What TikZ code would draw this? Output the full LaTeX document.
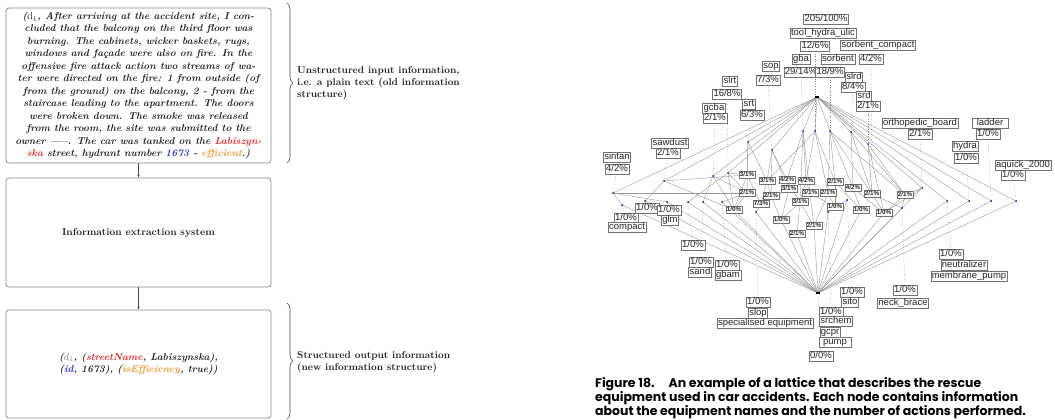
\documentclass[tikz,border=0pt]{standalone}
\usepackage{fontspec}
\usetikzlibrary{arrows.meta,decorations.pathreplacing}
\newfontfamily\labfont{Liberation Sans}
\newfontfamily\capfont{Poppins}
\definecolor{txt}{HTML}{222222}
\definecolor{myred}{HTML}{E8262A}
\definecolor{myblue}{HTML}{2B2BE0}
\definecolor{myorange}{HTML}{F39A2E}
\definecolor{edgec}{HTML}{9A9A9A}
\definecolor{boxc}{HTML}{8A8A8A}
\pgfdeclarelayer{bg}
\pgfsetlayers{bg,main}
\tikzset{
 bigbox/.style={draw=boxc, line width=0.8pt, rounded corners=3pt, minimum width=265pt, inner sep=0pt, text=txt, align=center},
 arr/.style={-{Stealth[length=3pt,width=2.4pt]}, draw=black!70, line width=0.5pt},
 brc/.style={decorate, decoration={brace, amplitude=6pt}, draw=black!70, line width=0.6pt},
 side/.style={anchor=west, align=left, inner sep=0pt, text=txt, font=\fontsize{9.9}{12}\selectfont\bfseries},
 lab/.style={draw=black!55, fill=white, line width=0.5pt, inner xsep=1pt, inner ysep=0.5pt, font=\labfont\fontsize{9.5}{10}\selectfont, text height=7pt, text depth=2pt, text=black!85},
 sm/.style={lab, font=\labfont\bfseries\fontsize{6.3}{7}\selectfont, text height=4.8pt, text depth=1pt, inner ysep=0.7pt, line width=0.6pt},
 edge/.style={draw=edgec, line width=0.4pt},
 dotl/.style={draw=gray, dotted, line width=0.5pt},
 dot/.style={circle, fill=blue!70!black, inner sep=0pt, minimum size=2pt},
 bar/.style={fill=black, inner sep=0pt, minimum width=4pt, minimum height=1.6pt},
}
\begin{document}
\begin{tikzpicture}[x=1pt,y=-1pt]
\useasboundingbox (0,0) rectangle (1055,420);

% ---------- left flow ----------
\node[bigbox, minimum height=155pt, font=\fontsize{10}{12.45}\selectfont\bfseries\itshape] (in1) at (138.5,85.5) {%
({\mdseries\upshape d$_1$}, After arriving at the accident site, I con-\\
cluded that the balcony on the third floor was\\
burning. The cabinets, wicker baskets, rugs,\\
windows and façade were also on fire. In the\\
offensive fire attack action two streams of wa-\\
ter were directed on the fire: 1 from outside (of\\
from the ground) on the balcony, 2 - from the\\
staircase leading to the apartment. The doors\\
were broken down. The smoke was released\\
from the room, the site was submitted to the\\
owner ---{}--. The car was tanked on the \textcolor{myred}{Labiszyn-}\\
\textcolor{myred}{ska} street, hydrant number \textcolor{myblue}{1673} - \textcolor{myorange}{efficient}.)};

\node[bigbox, minimum height=109pt, font=\fontsize{10}{12}\selectfont\bfseries] (ies) at (138.5,232.5) {Information extraction system};

\node[bigbox, minimum height=108pt, font=\fontsize{10}{12.6}\selectfont\bfseries\itshape] (out1) at (138.5,364) {%
({\mdseries\color{gray}$d_1$}, (\textcolor{myred}{streetName}, Labiszynska),\\
(\textcolor{myblue}{id}, 1673), (\textcolor{myorange}{isEfficiency}, true))};

\draw[arr] (in1.south) -- (ies.north);
\draw[arr] (ies.south) -- (out1.north);

\coordinate (b1a) at (287,3);
\coordinate (b1b) at (287,163);
\coordinate (b2a) at (287,303);
\coordinate (b2b) at (287,419);
\draw[brc] (b1a) -- (b1b);
\draw[brc] (b2a) -- (b2b);
\node[side] (t1) at (297,83) {Unstructured input information,\\i.e. a plain text (old information\\structure)};
\node[side] (t2) at (297,362) {Structured output information\\(new information structure)};

% ---------- caption ----------
\node[anchor=north west, align=left, inner sep=0pt, text=black, font=\capfont\bfseries\fontsize{12.5}{14}\selectfont] (cap) at (595,377) {%
Figure 18.\hspace{14pt}An example of a lattice that describes the rescue\\
equipment used in car accidents. Each node contains information\\
about the equipment names and the number of actions performed.};

% ---------- lattice dots ----------
\node[bar] (T) at (817,97) {};
\node[bar] (B) at (818,293) {};
\foreach \n/\x/\y in {gba/803/131, t12/815/131, sor/830/131, slrd/851/132, srd/868/144, sop/772/150, srt/748/142, slrt/728/173, gcba/713/176, saw/664/181, sin/613/193, ort/922/188, neu/947/201, hyd/969/201, lad/991/201, aqu/1016/201, L1/622/205, L2/645/201, L3/667/202, L4/688/202, L5/703/202, L6/722/202, L7/756/212, L9/828/212, L10/847/200, L11/902/208}
  \node[dot] (\n) at (\x,\y) {};

% ---------- small (inner) labels ----------
\foreach \n/\x/\y/\t in {s1/747/175/{3/1}, s2/767/181/{3/1}, s3/787/180/{4/2}, s4/806/181/{4/2}, s5/789/189/{3/1}, s6/747/193/{2/1}, s7/771/196/{2/1}, s8/810/193/{3/1}, s9/828/193/{2/1}, s10/835/182/{2/1}, s11/853/188/{4/2}, s12/872/194/{2/1}, s13/800/202/{3/1}, s14/761/204/{7/3}, s15/734/210/{1/0}, s16/835/207/{1/0}, s17/861/210/{1/0}, s18/884/213/{1/0}, s19/781/220/{1/0}, s20/814/226/{2/1}, s21/797/234/{2/1}, s22/905/195/{2/1}}
  \node[sm] (\n) at (\x,\y) {\t\%};

% ---------- labels ----------
\node[lab] (n205) at (826,19) {205/100\%};
\node[lab] (ntool) at (823,33) {tool\_hydra\_ulic};
\node[lab] (n12) at (815,46) {12/6\%};
\node[lab] (nsc) at (878,45) {sorbent\_compact};
\node[lab] (ngba) at (801,59) {gba};
\node[lab] (nsorb) at (838,59) {sorbent};
\node[lab] (nsc2) at (871,59) {4/2\%};
\node[lab] (nsop) at (771,66) {sop};
\node[lab] (nsop2) at (768,80) {7/3\%};
\node[lab] (n29) at (801,72) {29/14\%};
\node[lab] (n18) at (830,72) {18/9\%};
\node[lab] (nslrd) at (854,77) {slrd};
\node[lab] (n8) at (853,87) {8/4\%};
\node[lab] (nsrd) at (864,96) {srd};
\node[lab] (nsrd2) at (868,106) {2/1\%};
\node[lab] (nslrt) at (730,81) {slrt};
\node[lab] (n16) at (727,94) {16/8\%};
\node[lab] (ngcba) at (714,108) {gcba};
\node[lab] (ngcba2) at (715,118) {2/1\%};
\node[lab] (nsrt) at (749,104) {srt};
\node[lab] (nsrt2) at (752,115) {6/3\%};
\node[lab] (nsaw) at (670,143) {sawdust};
\node[lab] (nsaw2) at (668,153) {2/1\%};
\node[lab] (nsin) at (617,157) {sintan};
\node[lab] (nsin2) at (617,169) {4/2\%};
\node[lab] (nort) at (920,123) {orthopedic\_board};
\node[lab] (nort2) at (920,134) {2/1\%};
\node[lab, inner xsep=5pt] (nlad) at (990,123) {ladder};
\node[lab] (nlad2) at (988,134) {1/0\%};
\node[lab] (nhyd) at (965,146) {hydra};
\node[lab] (nhyd2) at (966,158) {1/0\%};
\node[lab] (naq) at (1023,165) {aquick\_2000};
\node[lab] (naq2) at (1013,175) {1/0\%};
\node[lab] (ncomp1) at (626,218) {1/0\%};
\node[lab] (ncomp) at (627,227) {compact};
\node[lab] (nL2) at (647,208) {1/0\%};
\node[lab] (nglm1) at (669,210) {1/0\%};
\node[lab] (nglm) at (670,220) {glm};
\node[lab] (nL4) at (693,245) {1/0\%};
\node[lab] (nsand1) at (701,262) {1/0\%};
\node[lab] (nsand) at (700,272) {sand};
\node[lab] (ngbam1) at (727,265) {1/0\%};
\node[lab] (ngbam) at (728,275) {gbam};
\node[lab] (nslop1) at (758,302) {1/0\%};
\node[lab] (nslop) at (758,313) {slop};
\node[lab] (nspec) at (765,323) {specialised equipment};
\node[lab] (nsito1) at (852,292) {1/0\%};
\node[lab] (nsito) at (850,302) {sito};
\node[lab] (nneck1) at (905,290) {1/0\%};
\node[lab] (nneck) at (903,303) {neck\_brace};
\node[lab] (nsrch1) at (831,312) {1/0\%};
\node[lab] (nsrch) at (836,321) {srchem};
\node[lab] (ngcpr) at (830,332) {gcpr};
\node[lab, inner xsep=4pt] (npump) at (835,342) {pump};
\node[lab] (n00) at (821,356) {0/0\%};
\node[lab] (nneu1) at (951,254) {1/0\%};
\node[lab] (nneu) at (964,265) {neutralizer};
\node[lab] (nmem) at (969,276) {membrane\_pump};

% ---------- edges ----------
\begin{pgfonlayer}{bg}
\fill[white] (0,0) rectangle (1055,420);
\foreach \a/\b in {T/gba,T/t12,T/sor,T/slrd,T/srd,T/sop,T/srt,T/slrt,T/gcba,T/saw,T/sin,T/ort,T/neu,T/hyd,T/lad,T/aqu,
 gba/s3,gba/s4,gba/s8,gba/s13,t12/s4,t12/s9,t12/s10,t12/s2,sor/s10,sor/s11,sor/s12,sor/s9,sor/s22,
 slrd/s11,slrd/s12,slrd/s22,srd/s12,srd/s22,srd/s18,sop/s2,sop/s3,sop/s5,sop/s7,srt/s1,srt/s2,srt/s6,
 slrt/s1,slrt/s6,slrt/s15,slrt/L4,gcba/s15,gcba/s6,gcba/L5,saw/s1,saw/L2,saw/s15,sin/L1,sin/L3,sin/s6,
 ort/s22,ort/s18,s1/s15,s1/s14,s2/s14,s2/s7,s3/s5,s3/s13,s4/s8,s4/s13,s5/s19,s5/s14,s6/s15,s6/L6,
 s7/s14,s7/s19,s8/s20,s8/s16,s9/s16,s9/s20,s10/s16,s10/s17,s11/s17,s11/s18,s12/s18,s12/L11,
 s13/s19,s13/s21,s13/s20,s14/L7,s22/L11,s22/s18,s16/L9,s16/L10,
 L1/B,L2/B,L3/B,L4/B,L5/B,L6/B,L7/B,L9/B,L10/B,L11/B,s15/B,s17/B,s18/B,s19/B,s20/B,s21/B,neu/B,hyd/B,lad/B,aqu/B,ort/B}
  \draw[edge] (\a) -- (\b);
\foreach \a/\b in {n12/t12,n29/gba,n18/sor,n8/slrd,nsrd2/srd,nsc2/s12,nsop2/sop,nsrt2/srt,n16/slrt,ngcba2/gcba,nsaw2/saw,nsin2/sin,nort2/ort,nlad2/lad,nhyd2/hyd,naq2/aqu,
 L1/ncomp1,L2/nL2,L3/nglm1,L4/nL4,L5/nsand1,L6/ngbam1,L7/nslop1,L9/nsrch1,L10/nsito1,L11/nneck1,neu/nneu1,B/n00}
  \draw[dotl] (\a) -- (\b);
\end{pgfonlayer}
\end{tikzpicture}
\end{document}
